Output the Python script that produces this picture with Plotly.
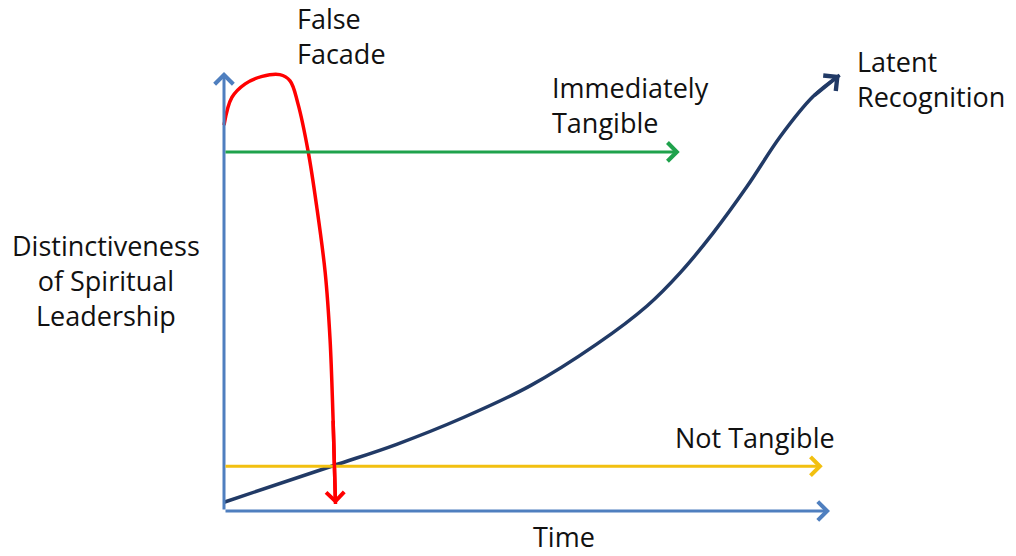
import plotly.graph_objects as go

# ---- data (abstract units: time 0..100, distinctiveness 0..100) ----
latent_t = [0, 18.0, 28.5, 39.5, 50.5, 61.5, 69.8, 75.3, 80.7, 86.3, 91.8, 97.2, 101.6]
latent_y = [2.0, 10.3, 15.2, 21.3, 28.5, 38.0, 46.7, 54.3, 63.3, 73.9, 85.3, 94.4, 99.3]

false_t = [0, 1.3, 3.5, 6.3, 9.2, 10.9, 12.2, 13.9, 15.3, 16.7, 17.5, 18.0, 18.4]
false_y = [87.9, 94.2, 97.3, 99.0, 99.4, 98.0, 92.8, 81.8, 69.3, 54.3, 39.1, 20.9, 1.6]

immediate_level = 81.8
immediate_end = 75.2
not_tangible_level = 10.2
not_tangible_end = 98.8
axis_x_end = 100
axis_y_end = 100

labels = {
    "false": "False<br>Facade",
    "immediate": "Immediately<br>Tangible",
    "latent": "Latent<br>Recognition",
    "not": "Not Tangible",
    "ylab": "Distinctiveness<br>of Spiritual<br>Leadership",
    "xlab": "Time",
}

AXIS_C = "#4f7fbf"
RED = "#ff0000"
GREEN = "#1fa24c"
YELLOW = "#f2c010"
NAVY = "#213a66"
FONT = "Open Sans"

W, H = 1016, 556
# pixel layout of the plotting frame
X0PX, X1PX = 224, 830
Y0PX, Y1PX = 511, 72
sx = (X1PX - X0PX) / 100.0
sy = (Y0PX - Y1PX) / 100.0
xr = [-X0PX / sx, (W - X0PX) / sx]
yr = [(Y0PX - H) / sy, Y0PX / sy]

fig = go.Figure()

fig.add_trace(go.Scatter(x=latent_t, y=latent_y, mode="lines",
                         line=dict(color=NAVY, width=3.5, shape="spline", smoothing=1),
                         hoverinfo="skip", showlegend=False))
fig.add_trace(go.Scatter(x=false_t, y=false_y, mode="lines",
                         line=dict(color=RED, width=3.5, shape="spline", smoothing=1),
                         hoverinfo="skip", showlegend=False))

def arrow(tip, tail, color, width=3, size=1.2):
    fig.add_annotation(x=tip[0], y=tip[1], ax=tail[0], ay=tail[1],
                       xref="x", yref="y", axref="x", ayref="y",
                       text="", showarrow=True, arrowhead=4, arrowsize=size,
                       arrowwidth=width, arrowcolor=color, standoff=0, startstandoff=0)

# axes
arrow((0, axis_y_end), (0, 0), AXIS_C)
arrow((axis_x_end, 0), (0, 0), AXIS_C)
# horizontal series
arrow((immediate_end, immediate_level), (0, immediate_level), GREEN)
arrow((not_tangible_end, not_tangible_level), (0, not_tangible_level), YELLOW)
# arrowheads for curves
arrow((false_t[-1], false_y[-1]), (false_t[-2], false_y[-2]), RED, width=3.5, size=1.0)
arrow((latent_t[-1], latent_y[-1]), (latent_t[-2], latent_y[-2]), NAVY, width=3.5, size=1.1)

def text(s, px, py, xanchor="left", align="left", yanchor="middle"):
    fig.add_annotation(x=px / W, y=1 - py / H, xref="paper", yref="paper",
                       text=s, showarrow=False, xanchor=xanchor, yanchor=yanchor,
                       align=align, borderpad=0,
                       font=dict(family=FONT, size=27, color="#111111"))

text(labels["false"], 296, 36)
text(labels["immediate"], 551, 105)
text(labels["latent"], 856, 79)
text(labels["not"], 674, 437)
text(labels["ylab"], 106, 280, xanchor="center", align="center")
text(labels["xlab"], 564, H, xanchor="center", align="center", yanchor="bottom")

fig.update_layout(
    width=W, height=H, margin=dict(l=0, r=0, t=0, b=0),
    paper_bgcolor="white", plot_bgcolor="white",
    xaxis=dict(range=xr, visible=False, fixedrange=True),
    yaxis=dict(range=yr, visible=False, fixedrange=True),
    showlegend=False,
)

fig.write_html("out.html", config={"displayModeBar": False},
               post_script="document.body.style.margin='0';document.body.style.overflow='hidden';")
